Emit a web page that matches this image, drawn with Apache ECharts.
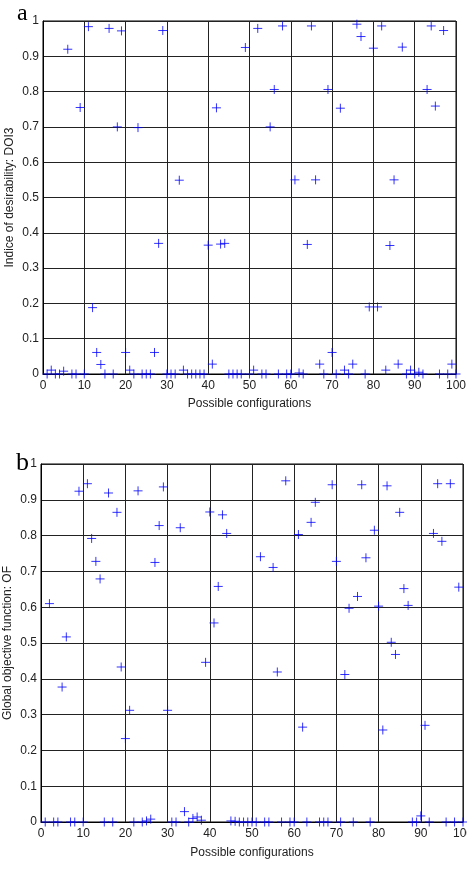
<!DOCTYPE html>
<html>
<head>
<meta charset="utf-8">
<script src="https://cdn.jsdelivr.net/npm/echarts@6/dist/echarts.min.js"></script>
<style>
  html, body { margin: 0; padding: 0; background: #fff; }
  #chart { width: 467px; height: 873px; }
</style>
</head>
<body>
<div id="chart"></div>
<script>
// configuration index, shared by both panels
const configs = [
  1, 2, 3, 4, 5, 6, 7, 8, 9, 10, 11, 12, 13, 14, 15, 16, 17, 18, 19, 20,
  21, 22, 23, 24, 25, 26, 27, 28, 29, 30, 31, 32, 33, 34, 35, 36, 37, 38, 39, 40,
  41, 42, 43, 44, 45, 46, 47, 48, 49, 50, 51, 52, 53, 54, 55, 56, 57, 58, 59, 60,
  61, 62, 63, 64, 65, 66, 67, 68, 69, 70, 71, 72, 73, 74, 75, 76, 77, 78, 79, 80,
  81, 82, 83, 84, 85, 86, 87, 88, 89, 90, 91, 92, 93, 94, 95, 96, 97, 98, 99, 100
]

// panel a: indice of desirability DOI3
const doi3 = [
  0, 0.011, 0, 0, 0.008, 0.92, 0, 0, 0.755, 0,
  0.984, 0.188, 0.061, 0.027, 0, 0.979, 0, 0.70, 0.972, 0.061,
  0.011, 0, 0.698, 0, 0, 0, 0.061, 0.37, 0.973, 0,
  0, 0, 0.549, 0.011, 0, 0, 0, 0, 0, 0.365,
  0.028, 0.754, 0.368, 0.37, 0, 0, 0, 0, 0.925, 0,
  0.011, 0.979, 0, 0, 0.70, 0.806, 0, 0.986, 0, 0,
  0.55, 0.003, 0, 0.367, 0.986, 0.55, 0.028, 0, 0.806, 0.061,
  0, 0.753, 0.011, 0, 0.028, 0.991, 0.956, 0, 0.19, 0.923,
  0.19, 0.986, 0.011, 0.364, 0.55, 0.028, 0.926, 0, 0.011, 0,
  0.005, 0, 0.806, 0.986, 0.759, 0, 0.973, 0, 0.028, 0
]

// panel b: global objective function OF
const objFn = [
  0, 0.61, 0, 0, 0.377, 0.517, 0, 0, 0.924, 0,
  0.945, 0.792, 0.728, 0.679, 0, 0.919, 0, 0.865, 0.433, 0.233,
  0.312, 0, 0.925, 0, 0.003, 0.008, 0.725, 0.828, 0.936, 0.312,
  0, 0, 0.822, 0.029, 0, 0.01, 0.014, 0.005, 0.446, 0.866,
  0.556, 0.658, 0.858, 0.806, 0.003, 0.002, 0, 0, 0, 0,
  0, 0.741, 0, 0, 0.711, 0.419, 0, 0.953, 0, 0,
  0.803, 0.265, 0, 0.837, 0.893, 0, 0, 0, 0.942, 0.728,
  0, 0.412, 0.597, 0, 0.63, 0.942, 0.738, 0, 0.815, 0.603,
  0.257, 0.939, 0.502, 0.468, 0.865, 0.652, 0.605, 0, 0, 0.017,
  0.27, 0, 0.806, 0.945, 0.784, 0, 0.945, 0, 0.656, 0
]

const font = 'Liberation Sans, Arial, sans-serif'
const plus = 'path://M0,-1L0,1M-1,0L1,0'

function xAxisFor(gridIndex, gap) {
  return {
    gridIndex: gridIndex,
    type: 'value',
    min: 0,
    max: 100,
    interval: 10,
    name: 'Possible configurations',
    nameLocation: 'middle',
    nameGap: gap,
    nameMoveOverlap: false,
    nameTextStyle: { fontFamily: font, fontSize: 12, color: '#222' },
    axisLine: { onZero: false, lineStyle: { color: '#000', width: 1 } },
    axisTick: { show: false },
    axisLabel: { fontFamily: font, fontSize: 12, color: '#222', margin: 6, hideOverlap: false },
    splitLine: { show: true, lineStyle: { color: '#222', width: 1 } }
  }
}

function yAxisFor(gridIndex, name, gap) {
  return {
    gridIndex: gridIndex,
    type: 'value',
    min: 0,
    max: 1,
    interval: 0.1,
    name: name,
    nameLocation: 'middle',
    nameGap: gap,
    nameMoveOverlap: false,
    nameTextStyle: { fontFamily: font, fontSize: 12, color: '#222' },
    axisLine: { onZero: false, lineStyle: { color: '#000', width: 1 } },
    axisTick: { show: false },
    axisLabel: { fontFamily: font, fontSize: 12, color: '#222', margin: 4 },
    splitLine: { show: true, lineStyle: { color: '#222', width: 1 } }
  }
}

function seriesFor(index, values) {
  return {
    type: 'scatter',
    xAxisIndex: index,
    yAxisIndex: index,
    data: configs.map((c, i) => [c, values[i]]),
    symbol: plus,
    symbolSize: 9,
    clip: false,
    silent: true,
    itemStyle: { color: 'none', borderColor: '#0000ff', borderWidth: 1 }
  }
}

const chart = echarts.init(document.getElementById('chart'), null, { renderer: 'canvas' })
chart.setOption({
  animation: false,
  backgroundColor: '#fff',
  grid: [
    { left: 43, top: 21, width: 413, height: 353, containLabel: false, outerBoundsMode: 'none',
      show: true, borderColor: '#000', borderWidth: 1 },
    { left: 41, top: 464, width: 422, height: 358, containLabel: false, outerBoundsMode: 'none',
      show: true, borderColor: '#000', borderWidth: 1 }
  ],
  xAxis: [xAxisFor(0, 24), xAxisFor(1, 25)],
  yAxis: [
    yAxisFor(0, 'Indice of desirability: DOI3', 27),
    yAxisFor(1, 'Global objective function: OF', 27)
  ],
  graphic: [
    { type: 'text', left: 17, top: 2, style: { text: 'a', font: '24px Liberation Serif, Times New Roman, serif', fill: '#000' } },
    { type: 'text', left: 16, top: 450, style: { text: 'b', font: '26px Liberation Serif, Times New Roman, serif', fill: '#000' } }
  ],
  series: [seriesFor(0, doi3), seriesFor(1, objFn)]
})
</script>
</body>
</html>
